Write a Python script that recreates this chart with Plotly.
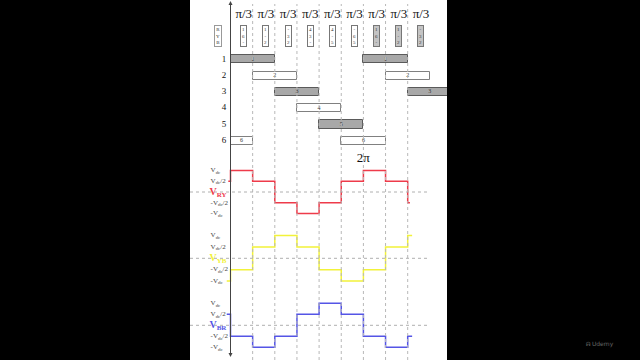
import plotly.graph_objects as go

# ---------------- data ----------------
steps = list(range(1, 9))                      # grid lines every pi/3
top_labels = ["π/3"] * 9                        # labels above each interval
box_texts = ["1<br>6<br>-", "1<br>-<br>2", "-<br>3<br>2", "4<br>3<br>-", "4<br>-<br>5",
             "-<br>6<br>5", "1<br>6<br>-", "1<br>-<br>2", "-<br>3<br>2"]
box_shaded = [False, False, False, False, False, False, True, True, True]

sw_rows = [1, 1, 2, 2, 3, 3, 4, 5, 6, 6]
sw_start = [0, 6, 1, 7, 2, 8, 3, 4, 0, 5]
sw_end = [2, 8, 3, 9, 4, 10, 5, 6, 1, 7]
row_labels = ["1", "2", "3", "4", "5", "6"]

# step waveforms (units of Vdc/2)
ry_t = [-0.1, 0, 1, 2, 3, 4, 5, 6, 7, 8, 8.1]
ry_v = [1, 2, 1, -1, -2, -1, 1, 2, 1, -1, -1]
yb_t = [-0.17, 0, 1, 2, 3, 4, 5, 6, 7, 8, 8.2]
yb_v = [-2, -1, 1, 2, 1, -1, -2, -1, 1, 2, 2]
br_t = [-0.17, 0, 1, 2, 3, 4, 5, 6, 7, 8, 8.2]
br_v = [1, -1, -2, -1, 1, 2, 1, -1, -2, -1, -1]
level_vals = [2, 1, -1, -2]
level_text = ["V<sub>dc</sub>", "V<sub>dc</sub>/2", "-V<sub>dc</sub>/2", "-V<sub>dc</sub>"]

# ---------------- layout constants ----------------
W, H = 640, 360
PL, PR = 190, 447          # white panel edges (px)
X0, XS = 230.5, 22.15      # px of t=0, px per pi/3
SERIF = "Liberation Serif"

def yrange(p0, s):
    return [-(H - p0) / s, p0 / s]

ROW0, ROWS = 59.3, 16.3

fig = go.Figure()

# switch bars
colors = ["#a8a8a8" if r % 2 == 1 else "#ffffff" for r in sw_rows]
edges = ["#5a5a5a" if r % 2 == 1 else "#808080" for r in sw_rows]
fig.add_trace(go.Bar(
    orientation="h", y=sw_rows, base=sw_start,
    x=[e - s for s, e in zip(sw_start, sw_end)],
    width=0.5, marker=dict(color=colors, line=dict(color=edges, width=1)),
    yaxis="y", hoverinfo="skip", showlegend=False))
fig.add_trace(go.Scatter(
    x=[(s + e) / 2 for s, e in zip(sw_start, sw_end)], y=sw_rows,
    text=[str(r) for r in sw_rows], mode="text",
    textfont=dict(size=6, color="#333", family=SERIF), showlegend=False, yaxis="y"))
fig.add_trace(go.Scatter(
    x=[-0.29] * 6, y=[int(v) for v in row_labels], text=row_labels, mode="text",
    textfont=dict(size=9, color="#111", family=SERIF), showlegend=False, yaxis="y"))
# pi/3 labels
fig.add_trace(go.Scatter(
    x=[k + 0.6 for k in range(len(top_labels))], y=[-1.75] * len(top_labels),
    text=top_labels, mode="text",
    textfont=dict(size=13, color="#111", family=SERIF), showlegend=False, yaxis="y"))

# waveforms
waves = [(ry_t, ry_v, "y2", "#ee3b4a", "V<sub>RY</sub>"),
         (yb_t, yb_v, "y3", "#f2f23a", "V<sub>YB</sub>"),
         (br_t, br_v, "y4", "#5555e6", "V<sub>BR</sub>")]
for t, v, ax, col, name in waves:
    fig.add_trace(go.Scatter(x=t, y=v, mode="lines", line=dict(color=col, width=1.5, shape="hv"),
                             yaxis=ax, showlegend=False, hoverinfo="skip"))
    fig.add_trace(go.Scatter(x=[-0.9] * 4, y=level_vals, text=level_text, mode="text",
                             textposition="middle right",
                             textfont=dict(size=7, color="#444", family=SERIF),
                             yaxis=ax, showlegend=False))
    fig.add_trace(go.Scatter(x=[-0.95], y=[0], text=["<b>" + name + "</b>"], mode="text",
                             textposition="middle right",
                             textfont=dict(size=10, color=col, family=SERIF),
                             yaxis=ax, showlegend=False))

# 2pi label
fig.add_trace(go.Scatter(x=[6], y=[3.05], text=["2π"], mode="text",
                         textfont=dict(size=13, color="#111", family=SERIF),
                         yaxis="y2", showlegend=False))

shapes = []
for k in steps:
    shapes.append(dict(type="line", xref="x", yref="paper", x0=k, x1=k, y0=0, y1=1 - 4 / H,
                       line=dict(color="#b8b8b8", width=1, dash="dot")))
for ax in ["y2", "y3", "y4"]:
    shapes.append(dict(type="line", xref="paper", yref=ax, x0=0, x1=(427 - PL) / (PR - PL),
                       y0=0, y1=0, line=dict(color="#b0b0b0", width=1, dash="dot")))
shapes.append(dict(type="line", xref="x", yref="paper", x0=0, x1=0, y0=5 / H, y1=1 - 3 / H,
                   line=dict(color="#444", width=1)))

annotations = []
for k, (txt, sh) in enumerate(zip(box_texts, box_shaded)):
    annotations.append(dict(x=k + 0.6, y=-0.46, xref="x", yref="y", text=txt, showarrow=False,
                            font=dict(size=5, color="#333", family=SERIF),
                            bgcolor="#c4c4c4" if sh else "#ffffff",
                            bordercolor="#777", borderwidth=1, borderpad=1))
annotations.append(dict(x=-0.57, y=-0.46, xref="x", yref="y", text="R<br>Y<br>B", showarrow=False,
                        font=dict(size=5, color="#333", family=SERIF), bgcolor="#ffffff",
                        bordercolor="#999", borderwidth=1, borderpad=1))
# axis arrowheads
annotations.append(dict(x=0, y=1 - 1 / H, xref="x", yref="paper", ax=0, ay=8, text="",
                        showarrow=True, arrowhead=2, arrowsize=0.8, arrowwidth=1, arrowcolor="#444"))
annotations.append(dict(x=0, y=3 / H, xref="x", yref="paper", ax=0, ay=-8, text="",
                        showarrow=True, arrowhead=2, arrowsize=0.8, arrowwidth=1, arrowcolor="#444"))
annotations.append(dict(x=(616 - PL) / (PR - PL), y=10 / H, xref="paper", yref="paper",
                        text="ᕱ Udemy", showarrow=False, font=dict(size=6, color="#666", family="DejaVu Sans")))

fig.update_layout(
    width=W, height=H, margin=dict(l=PL, r=W - PR, t=0, b=0, pad=0),
    paper_bgcolor="#000000", plot_bgcolor="#ffffff", showlegend=False,
    bargap=0,
    xaxis=dict(range=[(PL - X0) / XS, (PR - X0) / XS], visible=False, fixedrange=True),
    yaxis=dict(range=[1 + (H - ROW0) / ROWS, 1 - ROW0 / ROWS], visible=False, domain=[0, 1]),
    yaxis2=dict(range=yrange(192, 10.75), visible=False, overlaying="y", anchor="x"),
    yaxis3=dict(range=yrange(258.3, 11.35), visible=False, overlaying="y", anchor="x"),
    yaxis4=dict(range=yrange(325.3, 11.0), visible=False, overlaying="y", anchor="x"),
    shapes=shapes, annotations=annotations,
)

fig.write_html("out.html")
